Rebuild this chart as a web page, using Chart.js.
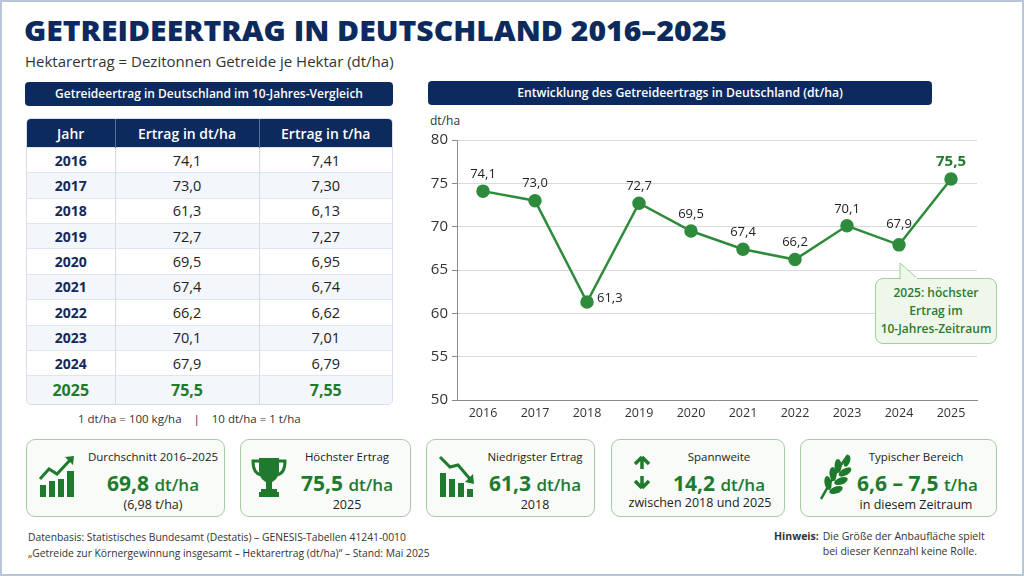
<!DOCTYPE html>
<html lang="de">
<head>
<meta charset="utf-8">
<script src="https://cdn.jsdelivr.net/npm/chart.js@4.4.1/dist/chart.umd.min.js"></script>
<style>
  html, body { margin: 0; padding: 0; }
  body { width: 1024px; height: 576px; position: relative; overflow: hidden; background: #fff; font-family: "Open Sans", "Noto Sans", sans-serif; color: #222; }
  .frame { position: absolute; left: 0; top: 0; width: 1020px; height: 572px; border: 2px solid #b9c6d9; }
  .abs { position: absolute; }
  h1 { position: absolute; left: 24px; top: 11px; margin: 0; font-size: 28px; font-weight: 800; color: #0d2a5e; white-space: nowrap; transform-origin: 0 50%; }
  .sub { left: 25px; top: 51px; font-size: 15px; color: #333; }
  .bar { background: #0d2a5e; color: #fff; border-radius: 4px; font-weight: 600; text-align: center; }
  table { border-collapse: collapse; table-layout: fixed; width: 100%; height: 100%; font-size: 14.5px; }
  .tbl { left: 26px; top: 118px; width: 367px; height: 287px; border: 1px solid #d7dee8; border-radius: 5px; overflow: hidden; box-sizing: border-box; }
  th { background: #0d2a5e; color: #fff; font-weight: 600; height: 26px; font-size: 14px; border-right: 1px solid #5a6f94; }
  th:last-child, td:last-child { border-right: none; }
  td { text-align: center; border-top: 1px solid #dfe5ee; border-right: 1px solid #d3dbe6; color: #222; }
  td.y { font-weight: 700; color: #14285a; font-size: 14px; }
  tr:nth-child(odd) td { background: #f3f6fa; }
  tr.best td { color: #1f7a2e; font-weight: 700; font-size: 16px; }
  .note { left: 78px; top: 411px; font-size: 11.5px; color: #333; white-space: pre; }
  .card { position: absolute; top: 439px; height: 78px; border: 1px solid #a6cca3; border-radius: 9px; background: #f8fbf7; box-sizing: border-box; }
  .card .txt { position: absolute; top: 9px; text-align: center; }
  .card .t { font-size: 11.5px; color: #222; line-height: 16px; }
  .card .v { font-size: 21px; font-weight: 700; color: #1f7a2e; line-height: 26px; margin-top: 5px; white-space: nowrap; }
  .card .v span { font-size: 17px; font-weight: 600; }
  .card .s { font-size: 12.5px; color: #222; line-height: 18px; margin-top: -2px; white-space: nowrap; }
  .card svg { position: absolute; }
  .foot { font-size: 10.3px; color: #333; line-height: 16px; }
  .callout { left: 875px; top: 278px; width: 122px; height: 66px; box-sizing: border-box; border: 1px solid #9fcf99; border-radius: 8px; background: #eef7ea; color: #2a7a30; font-size: 12px; font-weight: 600; text-align: center; line-height: 18px; padding-top: 5px; }
</style>
</head>
<body>
<div class="frame"></div>
<h1 id="title">GETREIDEERTRAG IN DEUTSCHLAND 2016–2025</h1>
<div class="abs sub">Hektarertrag = Dezitonnen Getreide je Hektar (dt/ha)</div>

<div class="abs bar" style="left:25px;top:82px;width:368px;height:24px;line-height:24px;font-size:12px;">Getreideertrag in Deutschland im 10-Jahres-Vergleich</div>
<div class="abs tbl"><table id="tbl"></table></div>
<div class="abs note">1 dt/ha = 100 kg/ha    |    10 dt/ha = 1 t/ha</div>

<div class="abs bar" style="left:428px;top:81px;width:504px;height:24px;line-height:24px;font-size:12.2px;">Entwicklung des Getreideertrags in Deutschland (dt/ha)</div>
<div class="abs" style="left:430px;top:112px;font-size:12px;color:#333;">dt/ha</div>
<div class="abs" style="left:420px;top:108px;width:580px;height:322px;"><canvas id="chart"></canvas></div>

<svg class="abs" style="left:895px;top:262px;" width="30" height="18" viewBox="0 0 30 18">
  <path d="M5 17 L5 1 L23 17" fill="#eef7ea" stroke="#9fcf99" stroke-width="1"/>
</svg>
<div class="abs callout">2025: höchster<br>Ertrag im<br>10-Jahres-Zeitraum</div>
<div class="abs" style="left:901px;top:277px;width:16px;height:3px;background:#eef7ea;"></div>

<div class="card" style="left:26px;width:199px;">
  <svg style="left:11px;top:15px;" width="40" height="42" viewBox="0 0 40 42">
    <rect x="2" y="30" width="6" height="12" fill="#1f7a2e"/>
    <rect x="11" y="26" width="6" height="16" fill="#1f7a2e"/>
    <rect x="20" y="24" width="6" height="18" fill="#1f7a2e"/>
    <rect x="29" y="16" width="7" height="26" fill="#1f7a2e"/>
    <polyline points="2,24 11,14 19,19 33,4" fill="none" stroke="#1f7a2e" stroke-width="3"/>
    <path d="M27 2 L36 1 L35 10 Z" fill="#1f7a2e"/>
  </svg>
  <div class="txt" style="left:58px;width:136px;">
    <div class="t">Durchschnitt 2016–2025</div>
    <div class="v" id="kAvg"></div>
    <div class="s" id="kAvgT"></div>
  </div>
</div>
<div class="card" style="left:240px;width:171px;">
  <svg style="left:10px;top:16px;" width="36" height="42" viewBox="0 0 36 42">
    <path d="M8 2 H28 V14 C28 22 23 26 18 27 C13 26 8 22 8 14 Z" fill="#1f7a2e"/>
    <path d="M8 5 H2 C2 14 5 18 10 19" fill="none" stroke="#1f7a2e" stroke-width="3"/>
    <path d="M28 5 H34 C34 14 31 18 26 19" fill="none" stroke="#1f7a2e" stroke-width="3"/>
    <rect x="15" y="26" width="6" height="7" fill="#1f7a2e"/>
    <rect x="10" y="33" width="16" height="3" fill="#1f7a2e"/>
    <rect x="8" y="36" width="20" height="5" fill="#1f7a2e"/>
  </svg>
  <div class="txt" style="left:52px;width:108px;">
    <div class="t">Höchster Ertrag</div>
    <div class="v" id="kMax"></div>
    <div class="s" id="kMaxY"></div>
  </div>
</div>
<div class="card" style="left:426px;width:169px;">
  <svg style="left:11px;top:15px;" width="40" height="42" viewBox="0 0 40 42">
    <rect x="2" y="18" width="6" height="24" fill="#1f7a2e"/>
    <rect x="11" y="24" width="6" height="18" fill="#1f7a2e"/>
    <rect x="20" y="28" width="6" height="14" fill="#1f7a2e"/>
    <rect x="29" y="34" width="6" height="8" fill="#1f7a2e"/>
    <polyline points="2,2 12,12 20,10 32,24" fill="none" stroke="#1f7a2e" stroke-width="3"/>
    <path d="M35 19 L36 29 L27 27 Z" fill="#1f7a2e"/>
  </svg>
  <div class="txt" style="left:56px;width:104px;">
    <div class="t">Niedrigster Ertrag</div>
    <div class="v" id="kMin"></div>
    <div class="s" id="kMinY"></div>
  </div>
</div>
<div class="card" style="left:611px;width:174px;">
  <svg style="left:20px;top:15px;" width="20" height="35" viewBox="0 0 20 35">
    <path d="M10 2 L3 9 M10 2 L17 9 M10 2 V14" fill="none" stroke="#1f7a2e" stroke-width="3.5"/>
    <path d="M10 33 L3 26 M10 33 L17 26 M10 33 V21" fill="none" stroke="#1f7a2e" stroke-width="3.5"/>
  </svg>
  <div class="txt" style="left:50px;width:114px;">
    <div class="t">Spannweite</div>
    <div class="v" id="kRange"></div>
  </div>
  <div class="s" style="position:absolute;left:0;width:176px;top:54px;text-align:center;margin:0;">zwischen <span id="kRangeY"></span></div>
</div>
<div class="card" style="left:800px;width:197px;">
  <svg style="left:17px;top:13px;" width="34" height="48" viewBox="0 0 34 48">
    <path d="M3 46 C10 34 18 18 30 2" fill="none" stroke="#1f7a2e" stroke-width="2.5"/>
    <g fill="#1f7a2e">
      <ellipse cx="0" cy="0" rx="3.5" ry="7" transform="translate(10 30) rotate(-10)"/>
      <ellipse cx="0" cy="0" rx="3.5" ry="7" transform="translate(15 21) rotate(-5)"/>
      <ellipse cx="0" cy="0" rx="3.5" ry="7" transform="translate(20 13) rotate(0)"/>
      <ellipse cx="0" cy="0" rx="3.5" ry="7" transform="translate(18 37) rotate(70)"/>
      <ellipse cx="0" cy="0" rx="3.5" ry="7" transform="translate(23 28) rotate(70)"/>
      <ellipse cx="0" cy="0" rx="3.5" ry="7" transform="translate(27 19) rotate(60)"/>
      <ellipse cx="0" cy="0" rx="3" ry="6" transform="translate(29 8) rotate(20)"/>
    </g>
  </svg>
  <div class="txt" style="left:56px;width:118px;">
    <div class="t">Typischer Bereich</div>
    <div class="v" id="kTyp"></div>
    <div class="s">in diesem Zeitraum</div>
  </div>
</div>

<div class="abs foot" style="left:28px;top:529px;">Datenbasis: Statistisches Bundesamt (Destatis) – GENESIS-Tabellen 41241-0010<br>„Getreide zur Körnergewinnung insgesamt – Hektarertrag (dt/ha)“ – Stand: Mai 2025</div>
<div class="abs foot" style="left:774px;top:529px;font-size:10.5px;line-height:15px;display:flex;">
  <b style="margin-right:4px;">Hinweis:</b><div>Die Größe der Anbaufläche spielt<br>bei dieser Kennzahl keine Rolle.</div>
</div>

<script>
// Daten (dt/ha je Jahr)
const years = ['2016', '2017', '2018', '2019', '2020', '2021', '2022', '2023', '2024', '2025'];
const yieldDt = [74.1, 73.0, 61.3, 72.7, 69.5, 67.4, 66.2, 70.1, 67.9, 75.5];
const yieldT = [7.41, 7.30, 6.13, 7.27, 6.95, 6.74, 6.62, 7.01, 6.79, 7.55];
const yTicks = [50, 55, 60, 65, 70, 75, 80];

// Kennzahlen aus der Grafik
const avgDt = 69.8;
const avgT = 6.98;
const typicalRange = [6.6, 7.5];

const de = (v, d) => v.toLocaleString('de-DE', { minimumFractionDigits: d, maximumFractionDigits: d });

// Titel auf die Breite der Vorlage strecken
const title = document.getElementById('title');
title.style.transform = `scaleX(${703 / title.getBoundingClientRect().width})`;

// Tabelle aufbauen
const tbl = document.getElementById('tbl');
let html = '<colgroup><col style="width:88px"><col style="width:144px"><col></colgroup>';
html += '<tr><th>Jahr</th><th>Ertrag in dt/ha</th><th>Ertrag in t/ha</th></tr>';
const bestIdx = yieldDt.indexOf(Math.max(...yieldDt));
const lowIdx = yieldDt.indexOf(Math.min(...yieldDt));
years.forEach((y, i) => {
    html += `<tr class="${i === bestIdx ? 'best' : ''}"><td class="y">${y}</td><td>${de(yieldDt[i], 1)}</td><td>${de(yieldT[i], 2)}</td></tr>`;
});
tbl.innerHTML = html;

// Kacheln
document.getElementById('kAvg').innerHTML = `${de(avgDt, 1)} <span>dt/ha</span>`;
document.getElementById('kAvgT').textContent = `(${de(avgT, 2)} t/ha)`;
document.getElementById('kMax').innerHTML = `${de(yieldDt[bestIdx], 1)} <span>dt/ha</span>`;
document.getElementById('kMaxY').textContent = years[bestIdx];
document.getElementById('kMin').innerHTML = `${de(yieldDt[lowIdx], 1)} <span>dt/ha</span>`;
document.getElementById('kMinY').textContent = years[lowIdx];
document.getElementById('kRange').innerHTML = `${de(yieldDt[bestIdx] - yieldDt[lowIdx], 1)} <span>dt/ha</span>`;
document.getElementById('kRangeY').textContent = `${years[lowIdx]} und ${years[bestIdx]}`;
document.getElementById('kTyp').innerHTML = `${de(typicalRange[0], 1)} – ${de(typicalRange[1], 1)} <span>t/ha</span>`;

// Werte an die Punkte schreiben
const pointLabels = {
    id: 'pointLabels',
    afterDatasetsDraw(chart) {
        const ctx = chart.ctx;
        const pts = chart.getDatasetMeta(0).data;
        ctx.save();
        ctx.textBaseline = 'middle';
        pts.forEach((p, i) => {
            const txt = de(yieldDt[i], 1);
            if (i === bestIdx) {
                ctx.font = '700 15px "Open Sans"';
                ctx.fillStyle = '#1f7a2e';
                ctx.textAlign = 'center';
                ctx.fillText(txt, p.x, p.y - 17);
            } else if (i === lowIdx) {
                ctx.font = '13px "Open Sans"';
                ctx.fillStyle = '#222';
                ctx.textAlign = 'left';
                ctx.fillText(txt, p.x + 10, p.y - 4);
            } else {
                ctx.font = '13px "Open Sans"';
                ctx.fillStyle = '#222';
                ctx.textAlign = 'center';
                ctx.fillText(txt, p.x, p.y - (i === 8 ? 21 : 17));
            }
        });
        ctx.restore();
    }
};

const ctx = document.getElementById('chart').getContext('2d');
new Chart(ctx, {
    type: 'line',
    data: {
        labels: years,
        datasets: [{
            data: yieldDt,
            borderColor: '#2e8b3c',
            backgroundColor: '#2e8b3c',
            borderWidth: 2.5,
            pointRadius: 5.5,
            pointHoverRadius: 5.5,
            tension: 0
        }]
    },
    plugins: [pointLabels],
    options: {
        responsive: true,
        maintainAspectRatio: false,
        animation: false,
        layout: { padding: { top: 32, right: 23, left: 0, bottom: 0 } },
        plugins: { legend: { display: false }, tooltip: { enabled: false } },
        scales: {
            x: {
                offset: true,
                grid: { display: false, drawTicks: false },
                border: { color: '#8a8a8a', width: 1 },
                ticks: { color: '#333', font: { family: 'Open Sans', size: 12.5 }, padding: 6 },
                afterFit(scale) { scale.height = 30; }
            },
            y: {
                min: yTicks[0],
                max: yTicks[yTicks.length - 1],
                afterBuildTicks(scale) { scale.ticks = yTicks.map(v => ({ value: v })); },
                grid: { color: '#dadada', borderDash: [3, 3], tickLength: 5, tickColor: '#8a8a8a', tickBorderDash: [] },
                border: { color: '#8a8a8a', width: 1 },
                ticks: { color: '#333', font: { family: 'Open Sans', size: 15 }, padding: 4 },
                afterFit(scale) { scale.width = 37; }
            }
        }
    }
});
</script>
</body>
</html>
